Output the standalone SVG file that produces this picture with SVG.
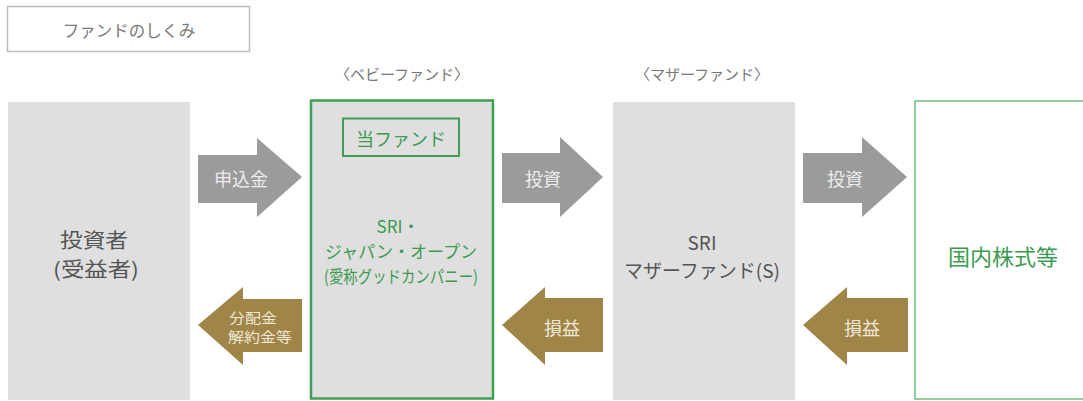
<svg xmlns="http://www.w3.org/2000/svg" width="1083" height="401" viewBox="0 0 1083 401">
  <style>
    text { font-family: 'Noto Sans CJK JP', 'Noto Sans', sans-serif; text-anchor: middle; dominant-baseline: central; }
    .gray-box { fill: #dfdfdf; }
    .dark { fill: #555555; }
    .green { fill: #3c9a52; }
    .sub { fill: #777777; font-size: 15px; }
    .arrow-g { fill: #9b9b9b; }
    .arrow-b { fill: #a08549; }
    .alabel { fill: #ececec; font-size: 18px; }
    .blabel { fill: #f1e9d8; font-size: 18px; }
    .small { font-size: 13.5px; }
  </style>
  <rect width="1083" height="401" fill="#ffffff"/>

  <g id="title">
    <rect x="7.5" y="6.5" width="242" height="45" fill="#ffffff" stroke="#bdbdbd" stroke-width="1.5"/>
    <text x="129" y="30" font-size="16.5" fill="#7a7a7a">ファンドのしくみ</text>
  </g>

  <text class="sub" x="402" y="73">〈ベビーファンド〉</text>
  <text class="sub" x="702" y="73">〈マザーファンド〉</text>

  <g id="investor">
    <rect class="gray-box" x="8" y="102" width="182" height="298"/>
    <text class="dark" x="94" y="239.5" font-size="20" textLength="68" lengthAdjust="spacingAndGlyphs">投資者</text>
    <text class="dark" x="96" y="268.5" font-size="20" textLength="86" lengthAdjust="spacingAndGlyphs">(受益者)</text>
  </g>

  <g id="baby-fund">
    <rect x="311" y="100.5" width="182" height="298" fill="#dfdfdf" stroke="#3f9e56" stroke-width="2.5"/>
    <rect x="343" y="118.5" width="116" height="37.5" fill="#dfdfdf" stroke="#3f9e56" stroke-width="2"/>
    <text class="green" x="401" y="138" font-size="18">当ファンド</text>
    <text class="green" x="398" y="225" font-size="17">SRI・</text>
    <text class="green" x="401" y="250" font-size="17">ジャパン・オープン</text>
    <text class="green" x="401" y="275" font-size="17" textLength="154" lengthAdjust="spacingAndGlyphs">(愛称グッドカンパニー)</text>
  </g>

  <g id="mother-fund">
    <rect class="gray-box" x="613" y="102" width="182" height="298"/>
    <text class="dark" x="702" y="241" font-size="19">SRI</text>
    <text class="dark" x="702" y="269" font-size="19">マザーファンド(S)</text>
  </g>

  <g id="domestic-stocks">
    <rect x="915" y="101" width="180" height="298" fill="#ffffff" stroke="#6cbf80" stroke-width="1.5"/>
    <text class="green" x="1003" y="255" font-size="22">国内株式等</text>
  </g>

  <g id="connectors">
    <g id="arrow-subscription">
      <polygon class="arrow-g" points="198,155 257,155 257,138 302,177 257,217 257,203 198,203"/>
      <text class="alabel" x="241" y="178">申込金</text>
    </g>
    <g id="arrow-invest-1">
      <polygon class="arrow-g" points="502,153 560,153 560,137 603,177 560,217 560,203 502,203"/>
      <text class="alabel" x="543" y="178">投資</text>
    </g>
    <g id="arrow-invest-2">
      <polygon class="arrow-g" points="803,153 862,153 862,137 907,177 862,217 862,203 803,203"/>
      <text class="alabel" x="845" y="178">投資</text>
    </g>
    <g id="arrow-distribution">
      <polygon class="arrow-b" points="302,299 243,299 243,287 198,325 243,365 243,352 302,352"/>
      <text class="blabel small" x="253" y="316.5" textLength="48" lengthAdjust="spacingAndGlyphs">分配金</text>
      <text class="blabel small" x="260" y="336" textLength="64" lengthAdjust="spacingAndGlyphs">解約金等</text>
    </g>
    <g id="arrow-pl-1">
      <polygon class="arrow-b" points="603,298 545,298 545,287 502,325 545,365 545,352 603,352"/>
      <text class="blabel" x="562" y="327">損益</text>
    </g>
    <g id="arrow-pl-2">
      <polygon class="arrow-b" points="908,298 847,298 847,287 803,325 847,365 847,352 908,352"/>
      <text class="blabel" x="862" y="327">損益</text>
    </g>
  </g>
</svg>
